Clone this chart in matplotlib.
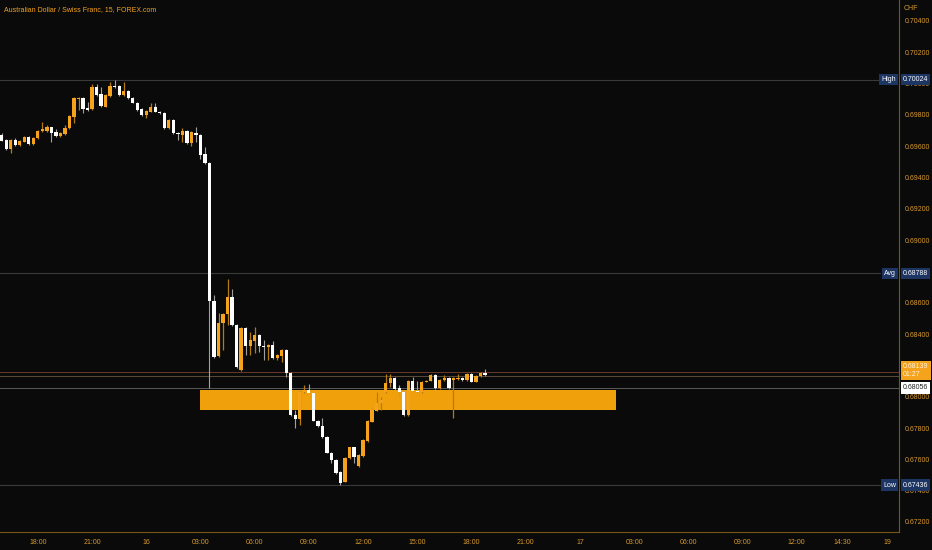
import matplotlib
matplotlib.use("Agg")
import matplotlib.pyplot as plt
import matplotlib.transforms as mtransforms
import numpy as np

# 15-minute AUDCHF candles, bar 0 = 16:00 on the 15th (prices)
opens = [0.69672, 0.69640, 0.69581, 0.69640, 0.69608, 0.69629, 0.69661, 0.69614, 0.69651, 0.69697,
         0.69699, 0.69721, 0.69693, 0.69667, 0.69676, 0.69715, 0.69789, 0.69900, 0.69910, 0.69844,
         0.69836, 0.69977, 0.69934, 0.69853, 0.69921, 0.69985, 0.69985, 0.69927, 0.69955, 0.69910,
         0.69878, 0.69836, 0.69800, 0.69821, 0.69853, 0.69821, 0.69814, 0.69715, 0.69768, 0.69687,
         0.69672, 0.69697, 0.69619, 0.69687, 0.69672, 0.69551, 0.69493, 0.68612, 0.68260, 0.68469,
         0.68529, 0.68639, 0.68458, 0.68171, 0.68437, 0.68324, 0.68358, 0.68394, 0.68324, 0.68316,
         0.68331, 0.68246, 0.68262, 0.68299, 0.68150, 0.67884, 0.67856, 0.68032, 0.68043, 0.68026,
         0.67847, 0.67813, 0.67741, 0.67643, 0.67596, 0.67521, 0.67458, 0.67607, 0.67677, 0.67558,
         0.67621, 0.67719, 0.67841, 0.67911, 0.67958, 0.68030, 0.68086, 0.68118, 0.68054, 0.68028,
         0.67884, 0.68103, 0.68039, 0.68032, 0.68096, 0.68103, 0.68139, 0.68054, 0.68107, 0.68118,
         0.68107, 0.68111, 0.68118, 0.68107, 0.68145, 0.68096, 0.68133, 0.68150]
highs = [0.69687, 0.69646, 0.69646, 0.69655, 0.69640, 0.69665, 0.69665, 0.69659, 0.69704, 0.69757,
         0.69736, 0.69726, 0.69708, 0.69688, 0.69736, 0.69800, 0.69915, 0.69917, 0.69915, 0.69885,
         0.69998, 0.69998, 0.69977, 0.69934, 0.70012, 0.70024, 0.69988, 0.70012, 0.69959, 0.69915,
         0.69883, 0.69841, 0.69832, 0.69874, 0.69873, 0.69825, 0.69819, 0.69774, 0.69771, 0.69691,
         0.69715, 0.69701, 0.69697, 0.69725, 0.69675, 0.69593, 0.69499, 0.68650, 0.68533, 0.68535,
         0.68750, 0.68686, 0.68465, 0.68446, 0.68443, 0.68416, 0.68444, 0.68401, 0.68362, 0.68337,
         0.68358, 0.68273, 0.68305, 0.68305, 0.68155, 0.67916, 0.68037, 0.68075, 0.68080, 0.68030,
         0.67851, 0.67862, 0.67746, 0.67647, 0.67600, 0.67526, 0.67612, 0.67682, 0.67682, 0.67634,
         0.67730, 0.67851, 0.67922, 0.68032, 0.67999, 0.68145, 0.68145, 0.68123, 0.68075, 0.68034,
         0.68107, 0.68128, 0.68103, 0.68101, 0.68107, 0.68143, 0.68143, 0.68111, 0.68139, 0.68123,
         0.68123, 0.68145, 0.68123, 0.68150, 0.68150, 0.68137, 0.68155, 0.68175]
lows = [0.69634, 0.69576, 0.69557, 0.69602, 0.69602, 0.69627, 0.69608, 0.69608, 0.69646, 0.69691,
        0.69694, 0.69629, 0.69662, 0.69662, 0.69672, 0.69710, 0.69749, 0.69832, 0.69814, 0.69825,
        0.69832, 0.69921, 0.69851, 0.69848, 0.69915, 0.69975, 0.69921, 0.69921, 0.69902, 0.69873,
        0.69825, 0.69793, 0.69780, 0.69816, 0.69816, 0.69806, 0.69710, 0.69710, 0.69678, 0.69640,
        0.69629, 0.69614, 0.69602, 0.69629, 0.69517, 0.69487, 0.68056, 0.68248, 0.68254, 0.68299,
        0.68458, 0.68452, 0.68184, 0.68165, 0.68267, 0.68267, 0.68278, 0.68288, 0.68235, 0.68235,
        0.68241, 0.68235, 0.68224, 0.68124, 0.67877, 0.67799, 0.67820, 0.68022, 0.68021, 0.67842,
        0.67807, 0.67737, 0.67638, 0.67575, 0.67507, 0.67436, 0.67453, 0.67603, 0.67575, 0.67551,
        0.67615, 0.67714, 0.67839, 0.67906, 0.67916, 0.68024, 0.68064, 0.68043, 0.67999, 0.67877,
        0.67879, 0.68034, 0.68022, 0.68022, 0.68091, 0.68098, 0.68050, 0.68050, 0.68103, 0.68050,
        0.67862, 0.68107, 0.68103, 0.68103, 0.68091, 0.68091, 0.68128, 0.68135]
closes = [0.69636, 0.69581, 0.69640, 0.69608, 0.69636, 0.69661, 0.69614, 0.69655, 0.69699, 0.69708,
          0.69721, 0.69687, 0.69667, 0.69683, 0.69719, 0.69793, 0.69910, 0.69910, 0.69836, 0.69832,
          0.69980, 0.69927, 0.69857, 0.69927, 0.69985, 0.69980, 0.69927, 0.69955, 0.69906, 0.69878,
          0.69832, 0.69800, 0.69827, 0.69853, 0.69821, 0.69810, 0.69715, 0.69768, 0.69683, 0.69678,
          0.69697, 0.69619, 0.69693, 0.69672, 0.69544, 0.69491, 0.68614, 0.68256, 0.68469, 0.68529,
          0.68639, 0.68458, 0.68192, 0.68437, 0.68324, 0.68362, 0.68394, 0.68324, 0.68320, 0.68331,
          0.68246, 0.68267, 0.68299, 0.68150, 0.67884, 0.67856, 0.68032, 0.68043, 0.68026, 0.67847,
          0.67813, 0.67741, 0.67643, 0.67596, 0.67511, 0.67451, 0.67607, 0.67677, 0.67617, 0.67628,
          0.67724, 0.67847, 0.67916, 0.67962, 0.67979, 0.68088, 0.68118, 0.68048, 0.68028, 0.67884,
          0.68103, 0.68039, 0.68030, 0.68096, 0.68103, 0.68139, 0.68054, 0.68107, 0.68118, 0.68054,
          0.68118, 0.68118, 0.68107, 0.68145, 0.68096, 0.68133, 0.68150, 0.68139]

price_ticks = [0.704, 0.702, 0.700, 0.698, 0.696, 0.694, 0.692, 0.690, 0.688, 0.686,
               0.684, 0.682, 0.680, 0.678, 0.676, 0.674, 0.672]
time_labels = ["18:00", "21:00", "16", "03:00", "06:00", "09:00", "12:00", "15:00", "18:00",
               "21:00", "17", "03:00", "06:00", "09:00", "12:00", "14:30", "19"]
time_bars = [8, 20, 32, 44, 56, 68, 80, 92, 104, 116, 128, 140, 152, 164, 176, 186, 196]

high_val, avg_val, low_val = 0.70024, 0.68788, 0.67436
last_val, prev_val = 0.68139, 0.68056
countdown = "01:27"
zone_lo, zone_hi = 0.67915, 0.68043
zone_x0, zone_x1 = 43.9, 136.1

BG = "#0a0a0a"; TXT = "#d99a2b"; AX = "#7a5514"
ORANGE = "#f5a21c"; ZONE = "#f0a00a"; WHITE = "#ffffff"
NAVY = "#1c3562"
FS, FT = 5.0, 5.0

plt.rcParams["font.family"] = ["Liberation Sans", "DejaVu Sans"]

W, H = 932, 550
fig = plt.figure(figsize=(W / 100, H / 100), dpi=100, facecolor=BG)
ax = fig.add_axes([0, (H - 532) / H, 899 / W, 532 / H], facecolor=BG)
ax.set_xlim(-0.38, 198.65)
ax.set_ylim(0.67136, 0.70534)

o = np.array(opens); c = np.array(closes); hi = np.array(highs); lo = np.array(lows)
x = np.arange(len(o))
up = c >= o

# reference lines
for v in [high_val, avg_val, low_val]:
    ax.axhline(v, xmax=880 / 899, color="#3a3a3a", lw=0.8, zorder=1)
ax.axhline(0.68160, color="#6b3a2a", lw=0.7, zorder=1)
ax.axhline(0.68134, color="#5a4a3a", lw=0.7, zorder=1)
ax.axhline(prev_val, color="#5a5a5a", lw=0.7, zorder=1)

# support zone
ax.add_patch(plt.Rectangle((zone_x0, zone_lo), zone_x1 - zone_x0, zone_hi - zone_lo,
                           facecolor=ZONE, edgecolor="none", zorder=2))

# candles
ax.vlines(x[~up], lo[~up], hi[~up], color="#a0a0a0", lw=0.8, zorder=3)
ax.vlines(x[up], lo[up], hi[up], color="#b57a12", lw=0.9, zorder=3)
body = np.maximum(np.abs(c - o), 0.000012)
ax.bar(x[~up], body[~up], bottom=np.minimum(o, c)[~up], width=0.72, color=WHITE, zorder=4)
ax.bar(x[up], body[up], bottom=np.minimum(o, c)[up], width=0.72, color=ORANGE, zorder=4)

# axes styling
for s in ["top", "left"]:
    ax.spines[s].set_visible(False)
ax.spines["right"].set_color(AX); ax.spines["bottom"].set_color(AX)
ax.yaxis.tick_right()
ax.set_yticks(price_ticks)
ax.set_yticklabels([f"{v:.5f}" for v in price_ticks])
ax.set_xticks(time_bars)
ax.set_xticklabels(time_labels)
ax.tick_params(axis="y", length=0, pad=4, colors=TXT, labelsize=FS)
ax.tick_params(axis="x", length=0, pad=5, colors=TXT, labelsize=FS)

# labels on the price scale
tr = mtransforms.blended_transform_factory(ax.transAxes, ax.transData)
vx = 1.0 + 4 / 899
def tag(v, name):
    ax.text(vx, v, f"{v:.5f}", transform=tr, ha="left", va="center", fontsize=FS,
            color="white", clip_on=False, zorder=10,
            bbox=dict(boxstyle="square,pad=0.3", fc=NAVY, ec="none"))
    ax.text(1.0 - 3 / 899, v, name, transform=tr, ha="right", va="center", fontsize=FS,
            color="white", clip_on=False, zorder=10,
            bbox=dict(boxstyle="square,pad=0.3", fc=NAVY, ec="none"))
tag(high_val, "High"); tag(avg_val, "Avg"); tag(low_val, "Low")
ax.text(vx, 0.68166, f"{last_val:.5f}\n{countdown}", transform=tr, ha="left", va="center",
        fontsize=FS, color="#fff3dc", clip_on=False, zorder=10, linespacing=1.1,
        bbox=dict(boxstyle="square,pad=0.3", fc=ORANGE, ec="none"))
ax.text(vx, prev_val, f"{prev_val:.5f}", transform=tr, ha="left", va="center",
        fontsize=FS, color="#222222", clip_on=False, zorder=11,
        bbox=dict(boxstyle="square,pad=0.3", fc="white", ec="none"))

fig.text(904 / W, 1 - 8 / H, "CHF", ha="left", va="center", fontsize=FS, color=TXT)
fig.text(4 / W, 1 - 10 / H, "Australian Dollar / Swiss Franc, 15, FOREX.com", ha="left",
         va="center", fontsize=FT, color=ORANGE)

fig.savefig("out.png", dpi=100, facecolor=BG)
